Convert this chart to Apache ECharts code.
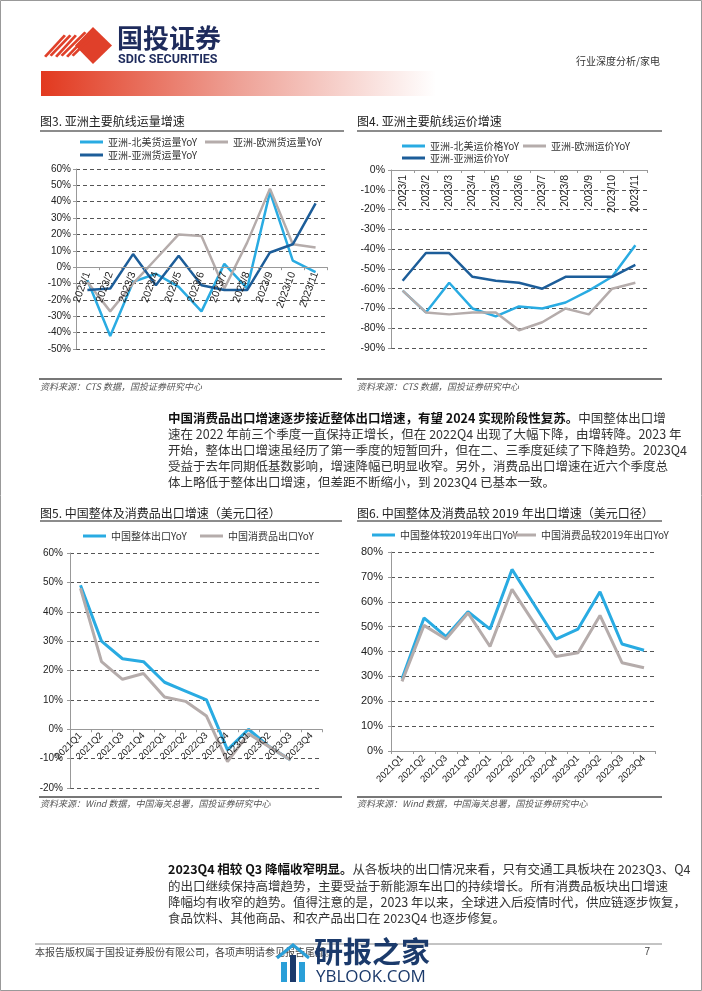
<!DOCTYPE html>
<html><head><meta charset="utf-8">
<script src="https://cdn.jsdelivr.net/npm/echarts@6/dist/echarts.min.js"></script>
<style>html,body{margin:0;padding:0;background:#fff}#c{width:702px;height:991px}</style>
</head><body><div id="c"></div>
<script>
// ---- data ----
var months = ['2023/1','2023/2','2023/3','2023/4','2023/5','2023/6','2023/7','2023/8','2023/9','2023/10','2023/11'];
var quarters = ['2021Q1','2021Q2','2021Q3','2021Q4','2022Q1','2022Q2','2022Q3','2022Q4','2023Q1','2023Q2','2023Q3','2023Q4'];

var volNA = [-8,-42,-9,-4,-12,-27,2,-13,46,4,-3];
var volEU = [-9,-27,-10,5,20,19,-13,15,48,14,12];
var volAS = [-14,-13,8,-11,7,-11,-14,-14,9,14,39];

var priceNA = [-61,-72,-57,-70,-74,-69,-70,-67,-61,-54,-38];
var priceEU = [-61,-72,-73,-72,-72,-81,-77,-70,-73,-60,-57];
var priceAS = [-56,-42,-42,-54,-56,-57,-60,-54,-54,-54,-48];

var expTotal = [49,30,24,23,16,13,10,-7,0,-6,-10.5,null];
var expCons  = [48,23,17,19,11,9.5,4.5,-11,-1.5,-6,-10.5,null];

var vs19Total = [29,53.5,46,56,49,73,59,45,49,64,43,40.5];
var vs19Cons  = [28,50.5,45,55.5,42,65,51.5,38,39.5,54.5,35.5,33.5];

// ---- styling ----
var LB = '#29abe2', GR = '#b5acab', DB = '#1c5d99';
var CJK = '"Noto Sans CJK SC", sans-serif';
var LAT = '"Liberation Sans", Arial, sans-serif';

var grids = [
  {left:76, top:169, width:251, height:180},
  {left:391, top:170, width:256, height:178},
  {left:70, top:553, width:252, height:235},
  {left:391, top:552, width:264, height:199}
];
var yRanges = [[-50,60],[-90,0],[-20,60],[0,80]];

var chart = echarts.init(document.getElementById('c'), null, {renderer:'canvas'});

function yAx(gi, margin, fs) {
  return {type:'value', gridIndex:gi, min:yRanges[gi][0], max:yRanges[gi][1], interval:10,
    axisLine:{show:true, onZero:false, lineStyle:{color:'#999', width:1}},
    axisTick:{show:true, length:3, lineStyle:{color:'#999'}},
    axisLabel:{formatter:'{value}%', color:'#222', fontSize:fs, fontFamily:LAT, margin:margin},
    splitLine:{show:true, lineStyle:{color:'#555', type:[4,3], width:1}}};
}
// category axis drawn along the zero line of its value axis (shifted up from the grid bottom)
function xAx(gi, cats, rot, fs, margin) {
  var r = yRanges[gi];
  var zeroFromBottom = grids[gi].height * (0 - r[0]) / (r[1] - r[0]);
  return {type:'category', gridIndex:gi, data:cats, boundaryGap:true,
    position:'bottom', offset:-zeroFromBottom,
    axisLine:{show:true, onZero:false, lineStyle:{color:'#999', width:1}},
    axisTick:{show:true, length:3, lineStyle:{color:'#999'}},
    axisLabel:{rotate:rot, interval:0, color:'#222', fontSize:fs, fontFamily:LAT, margin:margin},
    splitLine:{show:false}, z:4};
}
function ser(name, data, color, gi, w) {
  return {type:'line', name:name, data:data, xAxisIndex:gi, yAxisIndex:gi, symbol:'none',
    lineStyle:{color:color, width:w}, itemStyle:{color:color}, connectNulls:false, z:3};
}
function leg(name, left, cy) {
  return {data:[name], left:left, top:cy-6, icon:'rect', itemWidth:23, itemHeight:3, itemGap:0, padding:0,
    textStyle:{fontSize:10, color:'#333', fontFamily:CJK}};
}
function T(x, y, text, o) {
  o = o || {};
  return {type:'text', x:x, y:y, silent:true, style:{text:text, fill:o.fill||'#222',
    fontSize:o.fs||12, fontWeight:o.fw||'normal', fontStyle:o.fi||'normal', fontFamily:o.ff||CJK,
    textAlign:o.align||'left', textVerticalAlign:'middle', rich:o.rich}};
}
function L(x1, y1, x2, y2, c, w) {
  return {type:'line', silent:true, shape:{x1:x1,y1:y1,x2:x2,y2:y2}, style:{stroke:c, lineWidth:w}};
}

var RED = '#e0402a';
var NAVY = '#1e2b5c';
var gfx = [];
gfx.push({type:'rect', shape:{x:0.5,y:0.5,width:701,height:990}, style:{fill:'none', stroke:'#999', lineWidth:1}, silent:true});
// logo diamond
gfx.push({type:'polygon', shape:{points:[[93,27],[112,45.5],[93,64],[75,45.5]]}, style:{fill:RED}, silent:true});
for (var i = 0; i < 6; i++) {
  var bx = 44 + i*5.5;
  gfx.push({type:'polygon', silent:true, shape:{points:[[bx,56 - (i%2)],[bx+2.2,57.5-(i%2)],[bx+22+ (i>2?4:0),33+(i>2?0:3)],[bx+19.8+(i>2?4:0),31.5+(i>2?0:3)]]}, style:{fill:RED}});
}
gfx.push(T(117, 38, '国投证券', {fs:26, fw:'bold', fill:NAVY}));
gfx.push(T(118, 60, 'SDIC SECURITIES', {fs:12.5, fw:'bold', fill:NAVY, ff:'Roboto, "Liberation Sans", sans-serif'}));
gfx.push({type:'rect', silent:true, shape:{x:41,y:71,width:395,height:25},
  style:{fill:new echarts.graphic.LinearGradient(0,0,1,0,[{offset:0,color:'#e2391f'},{offset:0.5,color:'#eea196'},{offset:1,color:'#ffffff'}])}});
gfx.push(T(660, 61, '行业深度分析/家电', {fs:10, fill:'#333', align:'right'}));

// figure titles
gfx.push(T(40, 121, '图3. 亚洲主要航线运量增速', {fs:12, fill:'#222'}));
gfx.push(T(357, 121, '图4. 亚洲主要航线运价增速', {fs:12, fill:'#222'}));
gfx.push(L(40,131,344,131,'#666',1.6));
gfx.push(L(357,131,662,131,'#666',1.6));
gfx.push(L(39,379,342,379,'#777',2));
gfx.push(L(357,379,662,379,'#777',2));
gfx.push(T(40, 387, '资料来源：CTS 数据，国投证券研究中心', {fs:9, fi:'italic', fill:'#555'}));
gfx.push(T(357, 387, '资料来源：CTS 数据，国投证券研究中心', {fs:9, fi:'italic', fill:'#555'}));

var rich = {b:{fontWeight:'bold', fontSize:12.5, fontFamily:CJK, fill:'#111'}, n:{fontSize:12.5, fontFamily:CJK, fill:'#333'}};
var p1 = [
  '{b|中国消费品出口增速逐步接近整体出口增速，有望 2024 实现阶段性复苏。}{n|中国整体出口增}',
  '{n|速在 2022 年前三个季度一直保持正增长，但在 2022Q4 出现了大幅下降，由增转降。2023 年}',
  '{n|开始，整体出口增速虽经历了第一季度的短暂回升，但在二、三季度延续了下降趋势。2023Q4}',
  '{n|受益于去年同期低基数影响，增速降幅已明显收窄。另外，消费品出口增速在近六个季度总}',
  '{n|体上略低于整体出口增速，但差距不断缩小，到 2023Q4 已基本一致。}'
];
var p1y = [418,434,450,466,482];
for (var k = 0; k < p1.length; k++) gfx.push(T(168, p1y[k], p1[k], {fs:12.5, rich:rich}));

gfx.push(T(40, 513, '图5. 中国整体及消费品出口增速（美元口径）', {fs:12, fill:'#222'}));
gfx.push(T(357, 513, '图6. 中国整体及消费品较 2019 年出口增速（美元口径）', {fs:12, fill:'#222'}));
gfx.push(L(40,521,342,521,'#666',1.6));
gfx.push(L(357,521,662,521,'#666',1.6));
gfx.push(L(39,797,342,797,'#777',2));
gfx.push(L(357,797,662,797,'#777',2));
gfx.push(T(40, 804, '资料来源：Wind 数据，中国海关总署，国投证券研究中心', {fs:9, fi:'italic', fill:'#555'}));
gfx.push(T(357, 804, '资料来源：Wind 数据，中国海关总署，国投证券研究中心', {fs:9, fi:'italic', fill:'#555'}));

var p2 = [
  '{b|2023Q4 相较 Q3 降幅收窄明显。}{n|从各板块的出口情况来看，只有交通工具板块在 2023Q3、Q4}',
  '{n|的出口继续保持高增趋势，主要受益于新能源车出口的持续增长。所有消费品板块出口增速}',
  '{n|降幅均有收窄的趋势。值得注意的是，2023 年以来，全球进入后疫情时代，供应链逐步恢复，}',
  '{n|食品饮料、其他商品、和农产品出口在 2023Q4 也逐步修复。}'
];
var p2y = [869,886,902,918];
for (var k2 = 0; k2 < p2.length; k2++) gfx.push(T(168, p2y[k2], p2[k2], {fs:12.5, rich:rich}));

gfx.push(L(35,944,662,944,'#888',1));
gfx.push(T(35, 952, '本报告版权属于国投证券股份有限公司，各项声明请参见报告尾部。', {fs:10, fill:'#444'}));
gfx.push(T(650, 952, '7', {fs:10, fill:'#444', ff:LAT, align:'right'}));
// watermark
gfx.push({type:'rect', silent:true, shape:{x:281,y:962,width:6,height:20}, style:{fill:'#2a9fd8'}});
gfx.push({type:'rect', silent:true, shape:{x:290,y:955,width:6,height:27}, style:{fill:'#1b3a6b'}});
gfx.push({type:'rect', silent:true, shape:{x:299,y:962,width:6,height:20}, style:{fill:'#2a9fd8'}});
gfx.push({type:'polyline', silent:true, shape:{points:[[277,958],[293,945],[309,958]]}, style:{stroke:'#2a9fd8', lineWidth:3, fill:'none'}});
gfx.push(T(314, 952, '研报之家', {fs:29, fw:'bold', fill:'#1b3a6b'}));
gfx.push(T(316, 977, 'YBLOOK.COM', {fs:17, fill:'#1b3a6b', ff:'"Open Sans", sans-serif'}));

var option = {
  animation:false,
  backgroundColor:'#fff',
  grid:grids,
  xAxis:[
    xAx(0, months, 70, 10.5, 5),
    xAx(1, months, 90, 10.5, 5),
    xAx(2, quarters, 45, 9.5, 5),
    xAx(3, quarters, 45, 9.5, 6)
  ],
  yAxis:[
    yAx(0, 5, 10),
    yAx(1, 6, 10.5),
    yAx(2, 7, 10),
    yAx(3, 8, 11)
  ],
  legend:[
    leg('亚洲-北美货运量YoY', 80, 143),
    leg('亚洲-欧洲货运量YoY', 205, 143),
    leg('亚洲-亚洲货运量YoY', 80, 156),
    leg('亚洲-北美运价格YoY', 402, 147),
    leg('亚洲-欧洲运价YoY', 523, 147),
    leg('亚洲-亚洲运价YoY', 402, 159),
    leg('中国整体出口YoY', 83, 537),
    leg('中国消费品出口YoY', 200, 537),
    leg('中国整体较2019年出口YoY', 372, 536),
    leg('中国消费品较2019年出口YoY', 513, 536)
  ],
  series:[
    ser('亚洲-北美货运量YoY', volNA, LB, 0, 2.5),
    ser('亚洲-欧洲货运量YoY', volEU, GR, 0, 2.5),
    ser('亚洲-亚洲货运量YoY', volAS, DB, 0, 2.5),
    ser('亚洲-北美运价格YoY', priceNA, LB, 1, 2.5),
    ser('亚洲-欧洲运价YoY', priceEU, GR, 1, 2.5),
    ser('亚洲-亚洲运价YoY', priceAS, DB, 1, 2.5),
    ser('中国整体出口YoY', expTotal, LB, 2, 3),
    ser('中国消费品出口YoY', expCons, GR, 2, 3),
    ser('中国整体较2019年出口YoY', vs19Total, LB, 3, 3),
    ser('中国消费品较2019年出口YoY', vs19Cons, GR, 3, 3)
  ],
  graphic:{elements:gfx}
};
chart.setOption(option);
</script>
</body></html>
